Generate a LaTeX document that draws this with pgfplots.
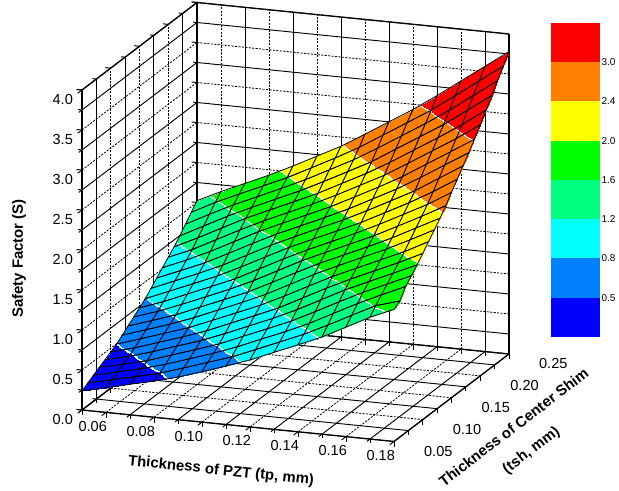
\documentclass[border=0pt]{standalone}
\usepackage{fontspec}
\setmainfont{Liberation Sans}
\usepackage{pgfplots}
\pgfplotsset{compat=1.18}
\definecolor{b1}{RGB}{0,0,255}
\definecolor{b2}{RGB}{0,128,255}
\definecolor{b3}{RGB}{0,255,255}
\definecolor{b4}{RGB}{0,255,128}
\definecolor{b5}{RGB}{0,255,0}
\definecolor{b6}{RGB}{255,255,0}
\definecolor{b7}{RGB}{255,128,0}
\definecolor{b8}{RGB}{255,0,0}
\pgfplotsset{colormap={bands}{
rgb255(0pt)=(0,0,255) rgb255(495pt)=(0,0,255)
rgb255(496pt)=(255,255,255) rgb255(504pt)=(255,255,255)
rgb255(505pt)=(0,128,255) rgb255(795pt)=(0,128,255)
rgb255(796pt)=(255,255,255) rgb255(804pt)=(255,255,255)
rgb255(805pt)=(0,255,255) rgb255(1195pt)=(0,255,255)
rgb255(1196pt)=(255,255,255) rgb255(1204pt)=(255,255,255)
rgb255(1205pt)=(0,255,128) rgb255(1595pt)=(0,255,128)
rgb255(1596pt)=(255,255,255) rgb255(1604pt)=(255,255,255)
rgb255(1605pt)=(0,255,0) rgb255(1995pt)=(0,255,0)
rgb255(1996pt)=(255,255,255) rgb255(2004pt)=(255,255,255)
rgb255(2005pt)=(255,255,0) rgb255(2395pt)=(255,255,0)
rgb255(2396pt)=(255,255,255) rgb255(2404pt)=(255,255,255)
rgb255(2405pt)=(255,128,0) rgb255(2995pt)=(255,128,0)
rgb255(2996pt)=(255,255,255) rgb255(3004pt)=(255,255,255)
rgb255(3005pt)=(255,0,0) rgb255(4000pt)=(255,0,0)
}}
\begin{document}
\begin{tikzpicture}
\useasboundingbox (0,0) rectangle (464.25pt,368.25pt);
\begin{axis}[
  at={(61.5pt,60.75pt)}, anchor=origin,
  x={(1800pt,-181.7pt)}, y={(431.25pt,328.1pt)}, z={(0pt,60pt)},
  xmin=0.05, xmax=0.18, ymin=0.05, ymax=0.25, zmin=0, zmax=4,
  xtick={0.06,0.08,0.10,0.12,0.14,0.16,0.18},
  xticklabels={0.06,0.08,0.10,0.12,0.14,0.16,0.18},
  minor xtick={0.05,0.07,0.09,0.11,0.13,0.15,0.17},
  ytick={0.05,0.10,0.15,0.20,0.25},
  yticklabels={0.05,0.10,0.15,0.20,0.25},
  minor ytick={0.075,0.125,0.175,0.225},
  ztick={0,0.5,1,1.5,2,2.5,3,3.5,4},
  zticklabels={0.0,0.5,1.0,1.5,2.0,2.5,3.0,3.5,4.0},
  minor ztick={0.25,0.75,1.25,1.75,2.25,2.75,3.25,3.75},
  xtick pos=left, ytick pos=left, ztick pos=left,
  grid=both,
  major grid style={black, line width=0.6pt, dash pattern=on 1.6pt off 1pt},
  minor grid style={black, line width=0.7pt, solid},
  tick align=outside, major tick length=4pt, minor tick length=3pt,
  tick style={black, line width=0.7pt},
  axis line style={black, line width=1pt},
  ticklabel style={font=\fontsize{10.9}{12}\selectfont, /pgf/number format/assume math mode=true},
  xticklabel style={anchor=center, xshift=-6.75pt, yshift=-8pt},
  yticklabel style={anchor=center, xshift=29.25pt, yshift=-6.75pt},
  zticklabel style={anchor=center, xshift=-11.25pt, yshift=-4.5pt},
  clip=false,
  colormap name=bands, point meta min=0, point meta max=4,
  xlabel={\bfseries Thickness of PZT (tp, mm)},
  ylabel={\bfseries Thickness of Center Shim\\[8pt]\bfseries (tsh, mm)},
  zlabel={\bfseries Safety Factor (S)},
  every axis x label/.style={at={(rel axis cs:0,0,0)}, anchor=center, xshift=104.25pt, yshift=-45.75pt, rotate=-6, font=\fontsize{11.2}{13}\selectfont},
  every axis y label/.style={at={(rel axis cs:0,0,0)}, anchor=center, align=center, xshift=330.75pt, yshift=-22.1pt, rotate=37.4, font=\fontsize{11.2}{13}\selectfont},
  every axis z label/.style={at={(rel axis cs:0,0,0)}, anchor=center, xshift=-47.25pt, yshift=113.6pt, rotate=90, font=\fontsize{11.2}{13}\selectfont},
]
\addplot3[surf, shader=faceted interp, faceted color=black, line width=0.6pt, mesh/cols=14, mesh/rows=21, point meta=z] coordinates {
(.05,.05,.240)(.06,.05,.311)(.07,.05,.382)(.08,.05,.452)(.09,.05,.533)(.10,.05,.632)(.11,.05,.731)(.12,.05,.838)(.13,.05,.963)(.14,.05,1.088)(.15,.05,1.215)(.16,.05,1.369)(.17,.05,1.523)(.18,.05,1.650)
(.05,.06,.283)(.06,.06,.353)(.07,.06,.424)(.08,.06,.495)(.09,.06,.592)(.10,.06,.691)(.11,.06,.790)(.12,.06,.913)(.13,.06,1.038)(.14,.06,1.163)(.15,.06,1.308)(.16,.06,1.461)(.17,.06,1.613)(.18,.06,1.700)
(.05,.07,.325)(.06,.07,.396)(.07,.07,.467)(.08,.07,.552)(.09,.07,.651)(.10,.07,.750)(.11,.07,.863)(.12,.07,.988)(.13,.07,1.113)(.14,.07,1.246)(.15,.07,1.400)(.16,.07,1.554)(.17,.07,1.693)(.18,.07,1.827)
(.05,.08,.368)(.06,.08,.438)(.07,.08,.513)(.08,.08,.612)(.09,.08,.711)(.10,.08,.813)(.11,.08,.938)(.12,.08,1.063)(.13,.08,1.188)(.14,.08,1.338)(.15,.08,1.492)(.16,.08,1.640)(.17,.08,1.773)(.18,.08,1.907)
(.05,.09,.410)(.06,.09,.481)(.07,.09,.572)(.08,.09,.671)(.09,.09,.770)(.10,.09,.888)(.11,.09,1.013)(.12,.09,1.138)(.13,.09,1.277)(.14,.09,1.431)(.15,.09,1.585)(.16,.09,1.720)(.17,.09,1.853)(.18,.09,1.987)
(.05,.10,.452)(.06,.10,.533)(.07,.10,.632)(.08,.10,.731)(.09,.10,.838)(.10,.10,.963)(.11,.10,1.088)(.12,.10,1.215)(.13,.10,1.369)(.14,.10,1.523)(.15,.10,1.667)(.16,.10,1.800)(.17,.10,1.933)(.18,.10,2.077)
(.05,.11,.495)(.06,.11,.592)(.07,.11,.691)(.08,.11,.790)(.09,.11,.913)(.10,.11,1.038)(.11,.11,1.163)(.12,.11,1.308)(.13,.11,1.461)(.14,.11,1.613)(.15,.11,1.747)(.16,.11,1.880)(.17,.11,2.015)(.18,.11,2.169)
(.05,.12,.552)(.06,.12,.651)(.07,.12,.750)(.08,.12,.863)(.09,.12,.988)(.10,.12,1.113)(.11,.12,1.246)(.12,.12,1.400)(.13,.12,1.554)(.14,.12,1.693)(.15,.12,1.827)(.16,.12,1.960)(.17,.12,2.108)(.18,.12,2.262)
(.05,.13,.612)(.06,.13,.711)(.07,.13,.813)(.08,.13,.938)(.09,.13,1.063)(.10,.13,1.188)(.11,.13,1.338)(.12,.13,1.492)(.13,.13,1.640)(.14,.13,1.773)(.15,.13,1.907)(.16,.13,2.046)(.17,.13,2.200)(.18,.13,2.354)
(.05,.14,.671)(.06,.14,.770)(.07,.14,.888)(.08,.14,1.013)(.09,.14,1.138)(.10,.14,1.277)(.11,.14,1.431)(.12,.14,1.585)(.13,.14,1.720)(.14,.14,1.853)(.15,.14,1.987)(.16,.14,2.138)(.17,.14,2.292)(.18,.14,2.455)
(.05,.15,.731)(.06,.15,.838)(.07,.15,.963)(.08,.15,1.088)(.09,.15,1.215)(.10,.15,1.369)(.11,.15,1.523)(.12,.15,1.667)(.13,.15,1.800)(.14,.15,1.933)(.15,.15,2.077)(.16,.15,2.231)(.17,.15,2.385)(.18,.15,2.566)
(.05,.16,.790)(.06,.16,.913)(.07,.16,1.038)(.08,.16,1.163)(.09,.16,1.308)(.10,.16,1.461)(.11,.16,1.613)(.12,.16,1.747)(.13,.16,1.880)(.14,.16,2.015)(.15,.16,2.169)(.16,.16,2.323)(.17,.16,2.492)(.18,.16,2.677)
(.05,.17,.863)(.06,.17,.988)(.07,.17,1.113)(.08,.17,1.246)(.09,.17,1.400)(.10,.17,1.554)(.11,.17,1.693)(.12,.17,1.827)(.13,.17,1.960)(.14,.17,2.108)(.15,.17,2.262)(.16,.17,2.418)(.17,.17,2.603)(.18,.17,2.788)
(.05,.18,.938)(.06,.18,1.063)(.07,.18,1.188)(.08,.18,1.338)(.09,.18,1.492)(.10,.18,1.640)(.11,.18,1.773)(.12,.18,1.907)(.13,.18,2.046)(.14,.18,2.200)(.15,.18,2.354)(.16,.18,2.529)(.17,.18,2.714)(.18,.18,2.899)
(.05,.19,1.013)(.06,.19,1.138)(.07,.19,1.277)(.08,.19,1.431)(.09,.19,1.585)(.10,.19,1.720)(.11,.19,1.853)(.12,.19,1.987)(.13,.19,2.138)(.14,.19,2.292)(.15,.19,2.455)(.16,.19,2.640)(.17,.19,2.825)(.18,.19,3.011)
(.05,.20,1.088)(.06,.20,1.215)(.07,.20,1.369)(.08,.20,1.523)(.09,.20,1.667)(.10,.20,1.800)(.11,.20,1.933)(.12,.20,2.077)(.13,.20,2.231)(.14,.20,2.385)(.15,.20,2.566)(.16,.20,2.751)(.17,.20,2.935)(.18,.20,3.139)
(.05,.21,1.163)(.06,.21,1.308)(.07,.21,1.461)(.08,.21,1.613)(.09,.21,1.747)(.10,.21,1.880)(.11,.21,2.015)(.12,.21,2.169)(.13,.21,2.323)(.14,.21,2.492)(.15,.21,2.677)(.16,.21,2.862)(.17,.21,3.053)(.18,.21,3.267)
(.05,.22,1.246)(.06,.22,1.400)(.07,.22,1.554)(.08,.22,1.693)(.09,.22,1.827)(.10,.22,1.960)(.11,.22,2.108)(.12,.22,2.262)(.13,.22,2.418)(.14,.22,2.603)(.15,.22,2.788)(.16,.22,2.972)(.17,.22,3.182)(.18,.22,3.395)
(.05,.23,1.338)(.06,.23,1.492)(.07,.23,1.640)(.08,.23,1.773)(.09,.23,1.907)(.10,.23,2.046)(.11,.23,2.200)(.12,.23,2.354)(.13,.23,2.529)(.14,.23,2.714)(.15,.23,2.899)(.16,.23,3.096)(.17,.23,3.310)(.18,.23,3.524)
(.05,.24,1.431)(.06,.24,1.585)(.07,.24,1.720)(.08,.24,1.853)(.09,.24,1.987)(.10,.24,2.138)(.11,.24,2.292)(.12,.24,2.455)(.13,.24,2.640)(.14,.24,2.825)(.15,.24,3.011)(.16,.24,3.224)(.17,.24,3.438)(.18,.24,3.652)
(.05,.25,1.523)(.06,.25,1.667)(.07,.25,1.800)(.08,.25,1.933)(.09,.25,2.077)(.10,.25,2.231)(.11,.25,2.385)(.12,.25,2.566)(.13,.25,2.751)(.14,.25,2.935)(.15,.25,3.139)(.16,.25,3.353)(.17,.25,3.566)(.18,.25,3.780)
};
\end{axis}
\begin{axis}[
  at={(413.25pt,115.5pt)}, anchor=south west,
  width=36.75pt, height=235.5pt, scale only axis,
  xmin=0, xmax=1, ymin=0, ymax=8,
  hide x axis,
  axis y line*=right,
  axis line style={draw=none},
  major tick length=0pt,
  ytick={1,2,3,4,5,6,7},
  yticklabels={0.5,0.8,1.2,1.6,2.0,2.4,3.0},
  yticklabel style={font=\fontsize{7.5}{9}\selectfont, inner sep=1pt},
]
\addplot[fill=b1,draw=none] coordinates {(0,0)(1,0)(1,1)(0,1)} -- cycle;
\addplot[fill=b2,draw=none] coordinates {(0,1)(1,1)(1,2)(0,2)} -- cycle;
\addplot[fill=b3,draw=none] coordinates {(0,2)(1,2)(1,3)(0,3)} -- cycle;
\addplot[fill=b4,draw=none] coordinates {(0,3)(1,3)(1,4)(0,4)} -- cycle;
\addplot[fill=b5,draw=none] coordinates {(0,4)(1,4)(1,5)(0,5)} -- cycle;
\addplot[fill=b6,draw=none] coordinates {(0,5)(1,5)(1,6)(0,6)} -- cycle;
\addplot[fill=b7,draw=none] coordinates {(0,6)(1,6)(1,7)(0,7)} -- cycle;
\addplot[fill=b8,draw=none] coordinates {(0,7)(1,7)(1,8)(0,8)} -- cycle;
\end{axis}
\end{tikzpicture}
\end{document}
